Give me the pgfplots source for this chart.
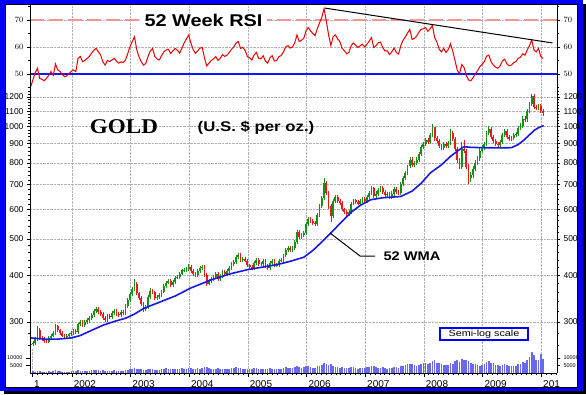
\documentclass[border=0pt]{standalone}
\usepackage{pgfplots}
\pgfplotsset{compat=1.18}
\usepackage{pgfplotstable}
\usepackage{fontspec}
\setmainfont{Liberation Sans}
\newfontfamily\goldfont{Liberation Serif}

\definecolor{frameblue}{RGB}{0,0,245}
\definecolor{lineblue}{RGB}{20,20,255}
\definecolor{candlegreen}{RGB}{20,145,20}
\definecolor{candlered}{RGB}{235,25,25}
\definecolor{wmablue}{RGB}{25,25,225}
\definecolor{volblue}{RGB}{105,105,240}
\definecolor{rsipink}{RGB}{240,150,150}
\definecolor{rsired}{RGB}{235,0,0}

\pgfplotstableread{
o h l c r v
260 265 257 262 45.3 900
262 267 259 264 47.8 1200
264 273 261 270 50.5 1000
270 292 267 286 52.1 1500
286 289 269 272 48.4 1300
272 275 267 270 48.0 900
270 273 264 267 47.5 800
267 270 263 266 48.4 1000
266 275 263 272 49.5 1100
272 279 269 276 50.9 900
276 283 273 280 49.5 1200
280 296 277 292 53.7 1800
292 295 282 285 51.5 1400
285 288 277 280 50.9 1100
280 283 273 276 49.8 1000
276 279 271 274 49.0 900
274 279 271 276 49.3 800
276 281 273 278 50.2 1000
278 283 275 280 51.0 1200
280 287 277 284 51.5 1100
284 287 279 282 50.9 1300
282 299 279 296 55.8 1700
296 304 293 300 56.5 1500
300 304 290 294 54.6 1400
294 304 290 300 55.0 1300
300 307 296 303 55.8 1200
303 312 299 308 56.5 1600
308 318 304 314 57.7 1800
314 326 310 322 58.8 2200
322 330 318 326 59.5 1900
326 330 316 320 58.2 1700
320 324 312 316 57.0 1500
316 320 304 308 54.5 1800
308 312 300 304 53.3 1600
304 316 300 312 55.0 1400
312 316 306 310 54.6 1300
310 322 306 318 55.2 1500
318 326 314 322 55.8 1700
322 326 312 316 54.8 1600
316 320 310 314 54.0 1400
314 324 310 320 54.5 1500
320 324 314 318 54.2 1300
318 336 314 332 55.2 1900
332 348 328 344 57.5 2200
344 360 340 356 60.1 2600
356 373 352 368 62.0 2800
368 392 364 380 63.8 3300
380 384 354 358 59.0 3000
358 362 344 348 56.4 2600
348 352 331 335 54.5 2400
335 339 320 326 53.3 2200
326 334 322 330 53.9 2000
330 354 326 350 56.5 2500
350 370 346 364 58.5 2900
364 368 356 360 59.5 2400
360 364 344 348 56.5 2300
348 354 344 350 55.6 2000
350 358 346 354 55.2 2100
354 366 350 362 56.8 2500
362 378 358 374 58.2 2800
374 386 370 382 58.9 3100
382 390 378 386 59.2 2700
386 390 372 376 57.6 2500
376 388 372 384 58.5 2400
384 398 380 394 59.5 2900
394 400 390 396 58.8 2600
396 408 392 404 57.7 2800
404 417 400 412 59.5 3100
412 419 407 414 61.5 2700
414 421 409 416 63.0 2900
416 428 411 420 64.4 3600
420 425 405 410 61.5 3400
410 415 399 404 59.0 3000
404 409 395 400 57.7 2800
400 415 395 410 58.5 3200
410 423 405 418 59.6 3000
418 427 413 420 59.8 3300
420 425 395 400 56.0 3800
400 405 375 380 53.0 4100
380 391 376 386 54.0 3400
386 397 381 392 55.0 3000
392 401 387 396 55.6 2700
396 407 391 402 56.5 2900
402 407 387 392 55.0 3100
392 403 387 398 55.8 2600
398 413 393 408 57.2 2800
408 413 399 404 56.5 2500
404 415 399 410 57.0 2700
410 423 405 418 58.0 3000
418 433 413 428 59.2 3400
428 439 423 434 60.0 3200
434 453 429 448 61.5 3800
448 459 443 454 62.0 3500
454 459 435 440 59.5 3300
440 447 435 442 59.8 2800
442 447 433 438 58.8 2500
438 443 420 425 56.5 3000
425 430 417 422 56.0 2800
422 427 413 418 55.2 2600
418 437 413 432 57.0 3100
432 445 427 440 58.0 3400
440 445 423 428 55.8 3000
428 433 423 428 55.6 2500
428 441 423 436 56.8 2700
436 441 419 424 54.8 2900
424 429 413 418 54.0 2600
418 437 413 432 56.0 3100
432 443 427 438 56.8 2800
438 443 420 425 54.8 2600
425 431 420 426 55.0 2400
426 443 421 438 56.5 3000
438 445 433 440 56.8 2700
440 457 435 452 58.2 3500
452 474 447 468 60.0 3900
468 478 463 472 60.5 3600
472 478 462 468 59.6 3200
468 480 462 474 60.0 3400
474 496 468 490 61.5 3800
490 530 485 522 64.5 4600
522 528 499 505 62.0 4200
505 518 499 512 62.5 3600
512 526 506 520 63.2 3900
520 557 514 550 66.0 4800
550 572 543 565 67.2 4400
565 572 551 558 66.0 4000
558 565 545 552 65.0 3600
552 559 541 548 64.2 3500
548 587 541 580 66.8 4500
580 619 573 612 69.0 5000
612 653 605 645 71.0 5500
645 728 638 705 74.2 6500
705 715 655 665 69.5 6000
665 674 603 612 64.5 5600
612 620 555 575 60.5 5800
575 640 568 632 63.8 5000
632 657 624 648 64.5 4300
648 657 626 634 63.0 3900
634 642 617 625 62.0 3500
625 632 593 600 59.5 3700
600 607 585 592 58.6 3300
592 599 572 582 57.5 3600
582 597 575 590 58.0 3100
590 629 583 622 60.5 4000
622 642 615 635 61.5 3800
635 642 621 628 60.6 3400
628 635 615 622 59.8 3000
622 639 615 632 60.5 3200
632 647 625 640 61.0 3500
640 647 624 632 60.0 3300
632 656 625 648 61.0 3700
648 674 640 665 62.2 4100
665 693 656 684 63.5 4500
684 690 643 652 59.8 4900
652 671 643 662 60.5 3900
662 687 653 678 61.6 3600
678 693 669 684 61.8 3400
684 693 659 668 59.8 3700
668 677 647 656 58.5 3200
656 669 647 660 58.6 3000
660 669 639 648 57.2 3300
648 671 639 662 58.2 3500
662 689 653 680 59.6 3900
680 689 659 668 58.0 4200
668 677 655 664 57.4 3600
664 711 655 702 60.5 4600
702 737 693 728 62.5 5000
728 761 719 752 63.8 5400
752 791 743 782 65.2 5800
782 827 773 815 66.5 6300
815 827 778 790 62.8 6000
790 810 780 800 63.2 5200
800 827 788 815 64.0 5000
815 857 803 845 65.5 5600
845 894 833 882 66.5 6200
882 912 870 900 66.8 6800
900 930 888 918 67.2 6400
918 930 896 908 65.8 6000
908 960 896 948 66.8 7000
948 1015 936 995 68.0 8200
995 1000 915 930 63.5 8800
930 942 903 915 61.8 7000
915 927 874 886 59.2 6500
886 898 866 878 58.2 6000
878 912 866 900 59.5 5600
900 912 874 886 58.0 5200
886 917 874 905 59.0 5400
905 985 893 960 61.2 6800
960 972 913 925 58.5 6300
925 937 858 870 55.0 7800
870 882 800 812 51.5 8500
812 824 768 780 50.0 7400
780 912 768 870 53.5 9200
870 920 848 860 52.5 8800
860 872 768 780 49.5 9000
780 792 700 730 47.8 8000
730 754 710 742 47.5 6800
742 784 730 772 48.6 6200
772 812 760 800 50.0 5800
800 834 788 822 51.2 5400
822 874 810 862 52.7 5000
862 892 850 880 53.5 5600
880 912 868 900 54.6 6200
900 972 888 960 56.6 7600
960 1002 948 985 57.0 8000
985 997 928 940 54.5 7000
940 952 903 915 53.3 6400
915 927 888 900 52.5 5600
900 912 878 890 52.1 5200
890 922 878 910 53.0 4800
910 962 898 950 54.8 5500
950 987 938 975 55.5 5900
975 987 928 940 53.8 5200
940 952 913 925 53.0 4600
925 942 913 930 53.3 4400
930 962 918 950 54.2 4800
950 967 938 955 54.6 4500
955 1002 943 990 55.8 5800
990 1020 978 1005 56.2 6200
1005 1065 990 1050 57.5 7200
1050 1065 1030 1045 57.0 6800
1045 1115 1030 1100 58.9 8400
1100 1165 1085 1150 60.5 10500
1150 1225 1135 1205 62.6 14000
1205 1220 1115 1130 58.9 12000
1130 1145 1105 1120 58.2 9000
1120 1150 1105 1135 59.5 8600
1135 1150 1085 1100 56.5 13000
1100 1115 1070 1085 55.8 9500
}\gold

\pgfplotstableread{
x w
0 272
6 270
12 270
18 272
22 276
27 285
32 294
37 301
42 307
46 315
50 326
56 337
64 352
71 370
80 389
88 403
96 414
102 420
109 427
115 436
121 447
125 466
128.5 488
133 519
137 550
142 590
146 615
150.6 637
156 645
164 650
169 672
173 705
177 751
182 790
186 832
190 868
192 883
195 880
200 878
207 877
213 878
216 895
218.4 919
221 950
223 976
225 993
227.3 1006
}\wma

\pgfplotsset{
  panel/.style={scale only axis, width=527pt, xmin=-0.3, xmax=233.2,
    axis line style={draw=none}, tick align=outside,
    scaled x ticks=false, scaled y ticks=false,
    major tick length=3pt, minor tick length=1.8pt,
    tick style={black, line width=0.5pt},
    tick label style={font=\fontsize{8.5}{9}\selectfont},
    grid style={densely dotted, black!30}, ytick pos=left},
  novx/.style={xtick=\empty,
    extra x ticks={18.2,44.2,70.2,96.2,122.2,148.2,174.2,200.2,226.2},
    extra x tick labels={},
    extra x tick style={grid=major, major tick length=0pt}},
  rightlab/.style={xtick=\empty, ytick pos=right, yticklabel pos=right},
  candle/.style={draw=none, mark=none, forget plot,
    error bars/.cd, y dir=minus, y explicit, error mark=none,
    error bar style={draw=#1}},
}

\begin{document}
\begin{tikzpicture}[x=1pt,y=1pt]
\useasboundingbox (0,0) rectangle (586,394);
\fill[black] (4,0) rectangle (586,390);
\fill[frameblue] (0,3) rectangle (583,394);
\fill[white] (5,7) rectangle (577,389.5);
\draw[black, line width=0.6pt] (5,7) rectangle (577,389.5);

% RSI panel
\begin{axis}[panel, novx, at={(30pt,305pt)}, anchor=south west, height=83pt,
  ymin=44.44, ymax=75.19, ytick={50,60,70}, minor ytick={45,55,65,75}, ymajorgrids]
\addplot[rsipink, line width=1.3pt, dash pattern=on 14pt off 5pt] coordinates {(-0.3,70) (233.2,70)};
\addplot[lineblue, line width=1.2pt] coordinates {(-0.3,50) (233.2,50)};
\addplot[rsired, line width=1pt] table[x expr=\coordindex, y=r] {\gold};
\addplot[black, line width=1pt] coordinates {(130.5,74.4) (231.2,61.5)};
\end{axis}
\begin{axis}[panel, rightlab, at={(30pt,305pt)}, anchor=south west, height=83pt,
  ymin=44.44, ymax=75.19, ytick={50,60,70}, minor ytick={45,55,65,75}]
\end{axis}

% price panel
\begin{axis}[panel, novx, at={(30pt,46pt)}, anchor=south west, height=259pt,
  ymode=log, ymin=255.6, ymax=1260.4,
  ytick={300,400,500,600,700,800,900,1000,1100,1200},
  yticklabels={300,400,500,600,700,800,900,1000,1100,1200},
  minor ytick={260,280,320,340,360,380,420,440,460,480,520,540,560,580,620,640,660,680,720,740,760,780,820,840,860,880,920,940,960,980,1020,1040,1060,1080,1120,1140,1160,1180,1220,1240},
  ymajorgrids]
\addplot[restrict expr to domain={\thisrow{c}-\thisrow{o}}{0:100000}, candle={candlegreen, line width=0.7pt}]
  table[x expr=\coordindex, y=h, y error minus expr=\thisrow{h}-\thisrow{l}] {\gold};
\addplot[restrict expr to domain={\thisrow{c}-\thisrow{o}}{0:100000}, candle={candlegreen, line width=1.8pt}]
  table[x expr=\coordindex, y=c, y error minus expr=\thisrow{c}-\thisrow{o}] {\gold};
\addplot[restrict expr to domain={\thisrow{o}-\thisrow{c}}{0.001:100000}, candle={candlered, line width=0.7pt}]
  table[x expr=\coordindex, y=h, y error minus expr=\thisrow{h}-\thisrow{l}] {\gold};
\addplot[restrict expr to domain={\thisrow{o}-\thisrow{c}}{0.001:100000}, candle={candlered, line width=1.8pt}]
  table[x expr=\coordindex, y=o, y error minus expr=\thisrow{o}-\thisrow{c}] {\gold};
\addplot[wmablue, line width=1.6pt] table[x=x, y=w] {\wma};
\end{axis}
\begin{axis}[panel, rightlab, at={(30pt,46pt)}, anchor=south west, height=259pt,
  ymode=log, ymin=255.6, ymax=1260.4,
  ytick={300,400,500,600,700,800,900,1000,1100,1200},
  yticklabels={300,400,500,600,700,800,900,1000,1100,1200},
  minor ytick={260,280,320,340,360,380,420,440,460,480,520,540,560,580,620,640,660,680,720,740,760,780,820,840,860,880,920,940,960,980,1020,1040,1060,1080,1120,1140,1160,1180,1220,1240}]
\end{axis}

% volume panel
\begin{axis}[panel, at={(30pt,21pt)}, anchor=south west, height=25pt,
  ymin=0, ymax=16667, ytick={5000,10000}, yticklabels={5000,10000},
  yticklabel style={font=\fontsize{5.5}{6}\selectfont},
  xtick={0.6,18.2,44.2,70.2,96.2,122.2,148.2,174.2,200.2,226.2},
  xticklabels={1,2002,2003,2004,2005,2006,2007,2008,2009,201},
  minor xtick={0.8667,3.0333,...,232},
  xtick pos=left, xmajorgrids,
  xticklabel style={anchor=north west, xshift=-1.5pt, font=\fontsize{10}{11}\selectfont},
  major tick length=4pt]
\addplot[ycomb, volblue, line width=1.6pt] table[x expr=\coordindex, y=v] {\gold};
\end{axis}
\begin{axis}[panel, rightlab, at={(30pt,21pt)}, anchor=south west, height=25pt,
  ymin=0, ymax=16667, ytick={5000,10000}, yticklabels={5000,10000},
  yticklabel style={font=\fontsize{5.5}{6}\selectfont}]
\end{axis}

% frame lines of plot area
\draw[black, line width=0.7pt] (30,21) -- (30,389.5);
\draw[black, line width=0.7pt] (557,21) -- (557,389.5);
\draw[black, line width=0.7pt] (30,21) -- (557,21);

% annotations
\node[fill=white, inner xsep=5pt, inner ysep=1pt, font=\bfseries\fontsize{17}{18}\selectfont] at (203.5,374) {\scalebox{1.17}[1]{52 Week RSI}};
\node[font=\goldfont\bfseries\fontsize{21}{22}\selectfont] at (124,267) {\scalebox{1.1}[1]{GOLD}};
\node[font=\bfseries\fontsize{14}{15}\selectfont] at (256,266) {\scalebox{1.2}[1]{(U.S. \$ per oz.)}};
\draw[black, line width=1pt] (330,161) -- (360,138) -- (375,138);
\node[anchor=west, font=\bfseries\fontsize{12.5}{13}\selectfont] at (380,138) {\scalebox{1.17}[1]{52 WMA}};
\node[draw=frameblue, line width=1.2pt, fill=white, minimum width=88pt, minimum height=12pt, inner sep=0pt, font=\fontsize{9}{10}\selectfont] at (484,60) {\scalebox{1.2}[1]{Semi-log scale}};
\end{tikzpicture}
\end{document}
